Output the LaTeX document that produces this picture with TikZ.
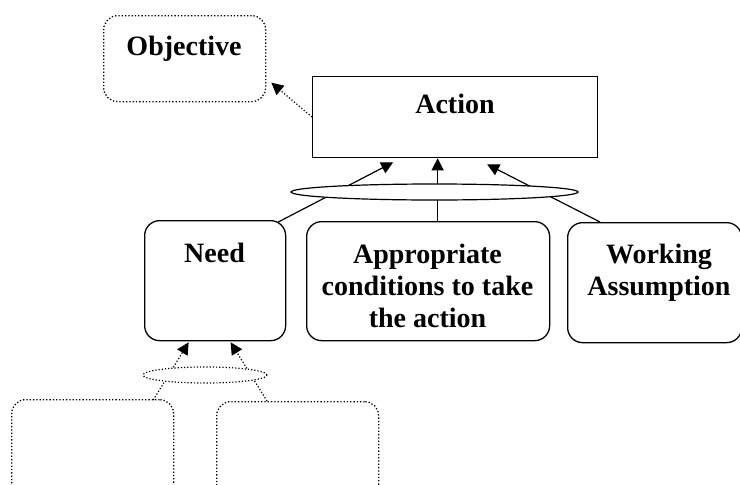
\documentclass[tikz,border=0pt]{standalone}
\usepackage{fontspec}
\setmainfont{Liberation Serif}
\usetikzlibrary{shapes.geometric,arrows.meta,calc}

\tikzset{
  solidbox/.style={draw, line width=1.3pt, inner sep=0pt, anchor=north west},
  roundbox/.style={solidbox, rounded corners=15pt},
  dotbox/.style={draw, dotted, line width=1.3pt, inner sep=0pt, anchor=north west, rounded corners=14pt},
  lbl/.style={font=\fontsize{28}{32}\selectfont\bfseries, inner sep=0pt, align=center, anchor=north},
  link/.style={line width=1.2pt, -{Triangle[length=12pt,width=12pt]}},
  dotlink/.style={link, dotted},
  ring/.style={draw, ellipse, fill=white, inner sep=0pt, line width=1.2pt},
}

\begin{document}
\begin{tikzpicture}[x=1pt, y=-1pt]
\useasboundingbox (0,0) rectangle (740,485);
\clip (0,0) rectangle (740,485);

% boxes
\node[dotbox, minimum width=162pt, minimum height=86pt] (obj) at (103,15) {};
\node[solidbox, minimum width=285pt, minimum height=81pt] (act) at (312,76) {};
\node[roundbox, minimum width=141pt, minimum height=120pt] (need) at (144,220) {};
\node[roundbox, minimum width=243pt, minimum height=119pt] (app) at (306,221) {};
\node[roundbox, minimum width=174pt, minimum height=120pt] (work) at (567,222) {};
\node[dotbox, minimum width=162pt, minimum height=130pt] (lb1) at (11,399) {};
\node[dotbox, minimum width=162pt, minimum height=130pt] (lb2) at (216,401) {};

% box texts
\node[lbl] (objtxt) at (184,35.5) {Objective};
\node[lbl] (acttxt) at (455,93.5) {Action};
\node[lbl] (needtxt) at (214.5,242.5) {Need};
\node[lbl] (apptxt) at (427.5,243.5) {Appropriate\\conditions to take\\the action};
\node[lbl] (worktxt) at (659,243.5) {Working\\Assumption};

% objective link
\draw[dotlink] ($(act.north west)+(0,41)$) -- ($(obj.east)+(5,24)$);

% links into the action, joined by the ellipse
\draw[link] ($(need.north east)+(-8,2)$) -- ($(act.south)+(-62,4)$);
\draw[link] ($(app.north)+(9.5,0)$) -- ($(act.south)+(-17.5,0)$);
\draw[link] ($(work.north west)+(33,0)$) -- ($(act.south)+(32,6)$);
\node[ring, minimum width=287pt, minimum height=16pt] (join) at (434.5,192) {};

% links into the need, joined by the dotted ellipse
\draw[dotlink] ($(lb1.north east)+(-21,1)$) -- ($(need.south)+(-26.5,1)$);
\draw[dotlink] ($(lb2.north west)+(51,0)$) -- ($(need.south)+(15.5,1)$);
\node[ring, dotted, minimum width=124pt, minimum height=16pt] (join2) at (205,375) {};
\end{tikzpicture}
\end{document}
